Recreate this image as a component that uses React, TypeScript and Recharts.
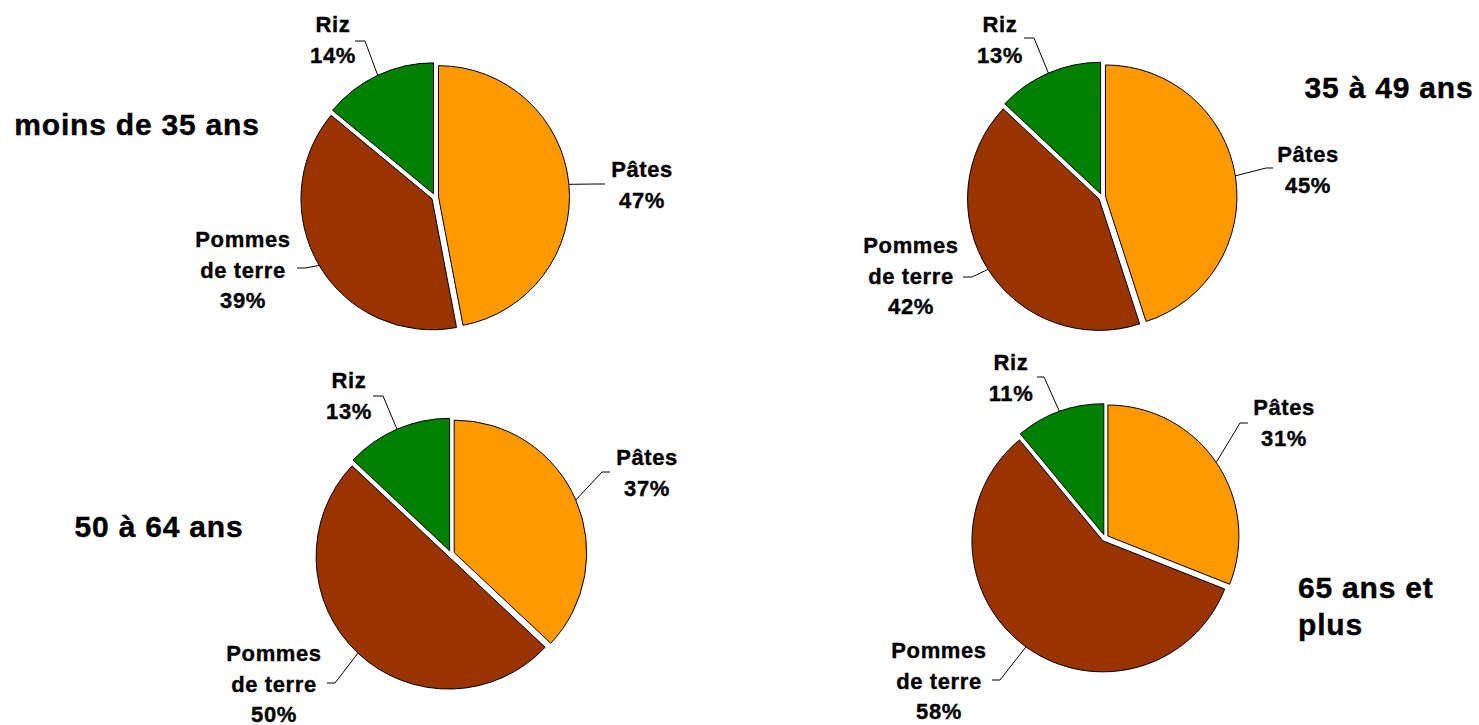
import React from 'react';
import { PieChart, Pie, Cell } from 'recharts';

// ---- data ----
const categories = ['Pâtes', 'Pommes de terre', 'Riz'];
const categoryLabelLines = [['Pâtes'], ['Pommes', 'de terre'], ['Riz']];
const groupTitles = [['moins de 35 ans'], ['35 à 49 ans'], ['50 à 64 ans'], ['65 ans et', 'plus']];
const valuesUnder35 = [47, 39, 14];
const values35to49 = [45, 42, 13];
const values50to64 = [37, 50, 13];
const values65plus = [31, 58, 11];
const groupValues = [valuesUnder35, values35to49, values50to64, values65plus];

// ---- style / layout ----
const colors = ['#FF9900', '#993300', '#008000'];
const FONT = "'Liberation Sans', Arial, Helvetica, sans-serif";
const EXPLODE = 3.5;
const LINE_H = 30.5;
const RAD = Math.PI / 180;

type LabelPos = { tx: number; ty: number; ax: number; ay: number; ex: number };
type Layout = {
  cx: number; cy: number; r: number;
  title: { x: number; y: number; anchor: 'start' | 'middle' | 'end'; lh: number };
  labels: LabelPos[];
};

const layouts: Layout[] = [
  {
    cx: 435, cy: 197, r: 131,
    title: { x: 137, y: 135, anchor: 'middle', lh: 37 },
    labels: [
      { tx: 642, ty: 177, ax: 605, ay: 184, ex: 596 },
      { tx: 243, ty: 247, ax: 297, ay: 268, ex: 305 },
      { tx: 333, ty: 32, ax: 355, ay: 41, ex: 365 },
    ],
  },
  {
    cx: 1102, cy: 197, r: 131.5,
    title: { x: 1389, y: 98, anchor: 'middle', lh: 37 },
    labels: [
      { tx: 1308, ty: 162, ax: 1273, ay: 168, ex: 1266 },
      { tx: 911, ty: 253, ax: 963, ay: 277, ex: 972 },
      { tx: 1000, ty: 32, ax: 1024, ay: 38, ex: 1034 },
    ],
  },
  {
    cx: 451, cy: 554, r: 132.5,
    title: { x: 159, y: 537, anchor: 'middle', lh: 37 },
    labels: [
      { tx: 647, ty: 465, ax: 610, ay: 472, ex: 602 },
      { tx: 274, ty: 661, ax: 327, ay: 683, ex: 335 },
      { tx: 349, ty: 388, ax: 373, ay: 396, ex: 383 },
    ],
  },
  {
    cx: 1105, cy: 538, r: 131,
    title: { x: 1298, y: 598, anchor: 'start', lh: 37 },
    labels: [
      { tx: 1284, ty: 415, ax: 1248, ay: 423, ex: 1240 },
      { tx: 939, ty: 658, ax: 992, ay: 680, ex: 1000 },
      { tx: 1011, ty: 370, ax: 1037, ay: 377, ex: 1044 },
    ],
  },
];

const makeData = (values: number[]) =>
  categories.map((name, i) => ({ name, value: values[i] }));

const makeLabel = (groupIdx: number, sliceIdx: number) => (props: any) => {
  if (props.index !== sliceIdx) return <g />;
  const { cx, cy, midAngle, outerRadius, value } = props;
  const px = cx + outerRadius * Math.cos(-midAngle * RAD);
  const py = cy + outerRadius * Math.sin(-midAngle * RAD);
  const L = layouts[groupIdx].labels[sliceIdx];
  const lines = [...categoryLabelLines[sliceIdx], `${value}%`];
  return (
    <g>
      <polyline
        points={`${px},${py} ${L.ex},${L.ay} ${L.ax},${L.ay}`}
        fill="none"
        stroke="#000"
        strokeWidth={1}
      />
      <text
        x={L.tx}
        y={L.ty}
        textAnchor="middle"
        fontFamily={FONT}
        fontWeight="bold"
        fontSize={22}
        fill="#000"
        stroke="#000"
        strokeWidth={0.35}
        letterSpacing={0.6}
      >
        {lines.map((l, i) => (
          <tspan key={i} x={L.tx} y={L.ty + i * LINE_H}>
            {l}
          </tspan>
        ))}
      </text>
    </g>
  );
};

export default function App() {
  const pies: React.ReactNode[] = [];
  groupValues.forEach((values, g) => {
    const total = values.reduce((a, b) => a + b, 0);
    const data = makeData(values);
    const lay = layouts[g];
    let cum = 0;
    values.forEach((v, s) => {
      const midFrac = (cum + v / 2) / total;
      cum += v;
      const ang = 90 - midFrac * 360;
      const dx = EXPLODE * Math.cos(ang * RAD);
      const dy = -EXPLODE * Math.sin(ang * RAD);
      pies.push(
        <Pie
          key={`p-${g}-${s}`}
          data={data}
          dataKey="value"
          nameKey="name"
          cx={lay.cx + dx}
          cy={lay.cy + dy}
          outerRadius={lay.r}
          innerRadius={0}
          startAngle={90}
          endAngle={-270}
          isAnimationActive={false}
          labelLine={false}
          label={makeLabel(g, s)}
        >
          {data.map((_, i) => (
            <Cell
              key={i}
              fill={i === s ? colors[i] : 'none'}
              stroke={i === s ? '#000' : 'none'}
              strokeWidth={1}
            />
          ))}
        </Pie>
      );
    });
  });

  return (
    <div style={{ position: 'absolute', left: 0, top: 0, width: 1479, height: 725, background: '#fff' }}>
      <PieChart width={1479} height={725} margin={{ top: 0, right: 0, bottom: 0, left: 0 }}>
        {pies}
      </PieChart>
      <svg
        width={1479}
        height={725}
        style={{ position: 'absolute', left: 0, top: 0, pointerEvents: 'none' }}
      >
        {groupTitles.map((lines, g) => {
          const t = layouts[g].title;
          return (
            <text
              key={g}
              x={t.x}
              y={t.y}
              textAnchor={t.anchor}
              fontFamily={FONT}
              fontWeight="bold"
              fontSize={30}
              letterSpacing={0.8}
              fill="#000"
              stroke="#000"
              strokeWidth={0.4}
            >
              {lines.map((l, i) => (
                <tspan key={i} x={t.x} y={t.y + i * t.lh}>
                  {l}
                </tspan>
              ))}
            </text>
          );
        })}
      </svg>
    </div>
  );
}
